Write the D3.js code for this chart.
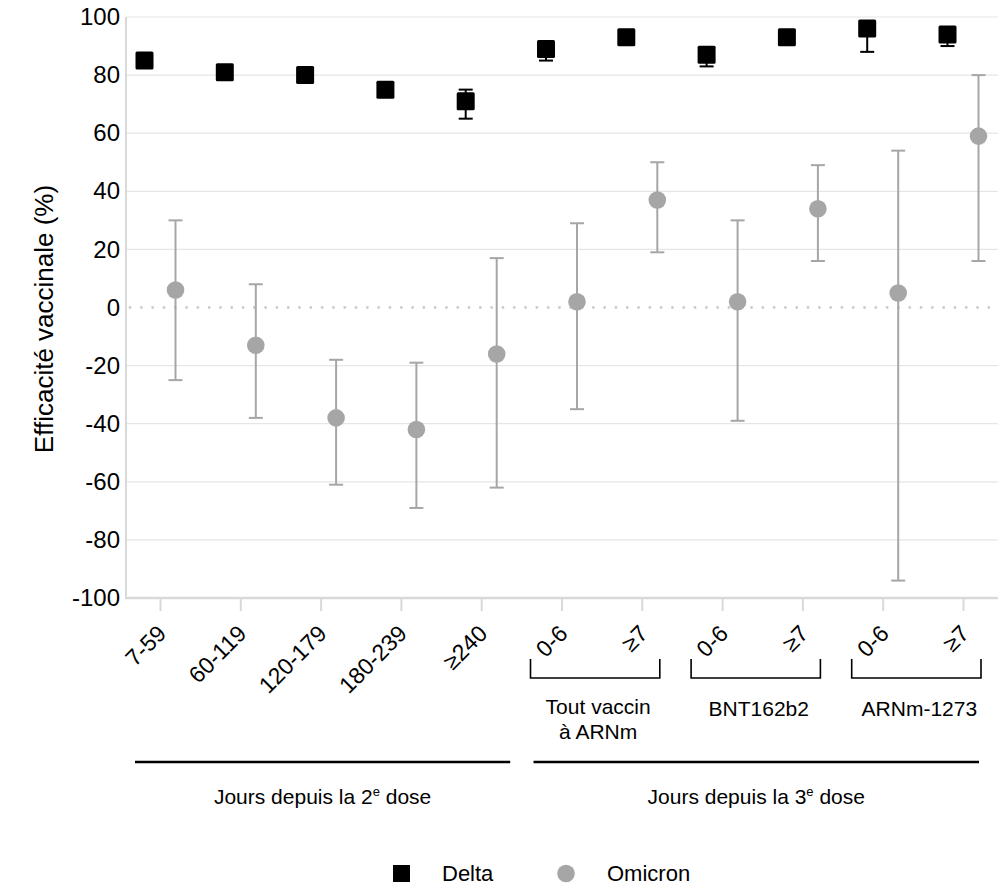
<!DOCTYPE html>
<html><head><meta charset="utf-8">
<script src="https://cdn.jsdelivr.net/npm/d3@7"></script>
<style>
html,body{margin:0;padding:0;background:#fff;}
svg{display:block;font-family:"Liberation Sans",Arial,sans-serif;}
</style></head>
<body><svg id="chart" width="1005" height="885"></svg>
<script>
// ---- data ----
const categories = ["7-59","60-119","120-179","180-239","≥240","0-6","≥7","0-6","≥7","0-6","≥7"];
const deltaVal = [85, 81, 80, 75, 71, 89, 93, 87, 93, 96, 94];
const deltaLo  = [84, 80, 79, 74, 65, 85, 92, 83, 92, 88, 90];
const deltaHi  = [86, 82, 81, 76, 75, 91, 94, 89, 94, 98, 96];
const omicronVal = [6, -13, -38, -42, -16, 2, 37, 2, 34, 5, 59];
const omicronLo  = [-25, -38, -61, -69, -62, -35, 19, -39, 16, -94, 16];
const omicronHi  = [30, 8, -18, -19, 17, 29, 50, 30, 49, 54, 80];
const yTicks = [-100,-80,-60,-40,-20,0,20,40,60,80,100];
const groupLabels = [["Tout vaccin","à ARNm"],["BNT162b2"],["ARNm-1273"]];
const groupFrom = [5,7,9];
const groupTo = [6,8,10];
const sectionLabels = [["Jours depuis la ","2","e"," dose"],["Jours depuis la ","3","e"," dose"]];
const sectionFrom = [0,5];
const sectionTo = [4,10];
const seriesNames = ["Delta","Omicron"];

// ---- layout ----
const svg = d3.select("#chart");
const plotL = 126, plotR = 998, plotT = 17, plotB = 598;
const fs = 21;
const grey = "#a6a6a6";

const y = d3.scaleLinear().domain([-100,100]).range([plotB, plotT]);
const x = d3.scalePoint().domain(d3.range(categories.length)).range([160, 963]);
const off = 15.5;

// gridlines
svg.append("g").selectAll("line")
  .data(yTicks.filter(t => t !== 0 && t !== -100))
  .join("line")
  .attr("x1", plotL).attr("x2", plotR)
  .attr("y1", d => y(d)).attr("y2", d => y(d))
  .attr("stroke", "#e6e6e6").attr("stroke-width", 1.2);

// zero dotted line
svg.append("line")
  .attr("x1", plotL + 4).attr("x2", plotR)
  .attr("y1", y(0)).attr("y2", y(0))
  .attr("stroke", "#cccccc").attr("stroke-width", 2.8)
  .attr("stroke-linecap", "round")
  .attr("stroke-dasharray", "0.1,11.2");

// y axis labels
const yAxis = d3.axisLeft(y).tickValues(yTicks).tickSize(0).tickPadding(6).tickFormat(d => String(d));
const yg = svg.append("g").attr("transform", `translate(${plotL},0)`).call(yAxis);
yg.select(".domain").remove();
yg.selectAll("text").attr("font-size", 24).attr("fill", "#000")
  .attr("font-family", "Liberation Sans, Arial, sans-serif");

// x axis
const xAxis = d3.axisBottom(x).tickSize(13).tickFormat(i => categories[i]);
const xg = svg.append("g").attr("transform", `translate(0,${plotB})`).call(xAxis);
xg.select(".domain").remove();
xg.selectAll(".tick line").attr("stroke", "#d9d9d9").attr("stroke-width", 2);
xg.selectAll(".tick text")
  .attr("font-size", 23).attr("fill", "#000")
  .attr("font-family", "Liberation Sans, Arial, sans-serif")
  .attr("text-anchor", "end")
  .attr("y", 0).attr("dy", 0)
  .attr("transform", "translate(7,37) rotate(-45)");

// axis lines
svg.append("line").attr("x1", plotL).attr("x2", plotL).attr("y1", plotT).attr("y2", plotB + 1)
  .attr("stroke", "#d9d9d9").attr("stroke-width", 2);
svg.append("line").attr("x1", plotL - 1).attr("x2", plotR).attr("y1", plotB).attr("y2", plotB)
  .attr("stroke", "#d9d9d9").attr("stroke-width", 2.5);

// y title
svg.append("text")
  .attr("transform", `translate(53,319) rotate(-90)`)
  .attr("text-anchor", "middle")
  .attr("font-size", 26)
  .text("Efficacité vaccinale (%)");

// error bars helper
function errorBars(vals, lo, hi, dx, color, cls) {
  const g = svg.append("g").attr("class", cls);
  const idx = d3.range(vals.length);
  g.selectAll("line.stem").data(idx).join("line").attr("class","stem")
    .attr("x1", i => x(i) + dx).attr("x2", i => x(i) + dx)
    .attr("y1", i => y(lo[i])).attr("y2", i => y(hi[i]))
    .attr("stroke", color).attr("stroke-width", 2);
  g.selectAll("line.lo").data(idx).join("line").attr("class","lo")
    .attr("x1", i => x(i) + dx - 7).attr("x2", i => x(i) + dx + 7)
    .attr("y1", i => y(lo[i])).attr("y2", i => y(lo[i]))
    .attr("stroke", color).attr("stroke-width", 2);
  g.selectAll("line.hi").data(idx).join("line").attr("class","hi")
    .attr("x1", i => x(i) + dx - 7).attr("x2", i => x(i) + dx + 7)
    .attr("y1", i => y(hi[i])).attr("y2", i => y(hi[i]))
    .attr("stroke", color).attr("stroke-width", 2);
}

errorBars(omicronVal, omicronLo, omicronHi, off, grey, "om-err");
errorBars(deltaVal, deltaLo, deltaHi, -off, "#000", "de-err");

// markers
const sq = 18;
svg.append("g").selectAll("rect").data(d3.range(deltaVal.length)).join("rect")
  .attr("x", i => x(i) - off - sq/2).attr("y", i => y(deltaVal[i]) - sq/2)
  .attr("width", sq).attr("height", sq).attr("rx", 1.5)
  .attr("fill", "#000");
svg.append("g").selectAll("circle").data(d3.range(omicronVal.length)).join("circle")
  .attr("cx", i => x(i) + off).attr("cy", i => y(omicronVal[i]))
  .attr("r", 8.8).attr("fill", grey);

// group brackets
const bT = 659, bB = 678;
groupFrom.forEach((f, k) => {
  const x1 = x(f) - 31, x2 = x(groupTo[k]) + 18;
  svg.append("path")
    .attr("d", `M${x1},${bT}V${bB}H${x2}V${bT}`)
    .attr("fill", "none").attr("stroke", "#000").attr("stroke-width", 1.6);
  const t = svg.append("text").attr("text-anchor", "middle").attr("font-size", fs)
    .attr("x", (x1 + x2)/2 + 3).attr("y", groupLabels[k].length > 1 ? 714 : 716);
  groupLabels[k].forEach((l, j) => {
    t.append("tspan").attr("x", (x1 + x2)/2 + 3).attr("dy", j === 0 ? 0 : 25).text(l);
  });
});

// section lines and labels
const secOffL = [-25, -28], secOffR = [29, 16];
sectionFrom.forEach((f, k) => {
  const x1 = x(f) + secOffL[k], x2 = x(sectionTo[k]) + secOffR[k];
  svg.append("line").attr("x1", x1).attr("x2", x2).attr("y1", 762).attr("y2", 762)
    .attr("stroke", "#000").attr("stroke-width", 2.4);
  const s = sectionLabels[k];
  const t = svg.append("text").attr("text-anchor", "middle").attr("font-size", fs)
    .attr("x", (x1 + x2)/2).attr("y", 804);
  t.append("tspan").text(s[0] + s[1]);
  t.append("tspan").attr("font-size", 13).attr("dy", -8).text(s[2]);
  t.append("tspan").attr("dy", 8).text(s[3]);
});

// legend
const lg = svg.append("g");
lg.append("rect").attr("x", 393).attr("y", 865).attr("width", 17).attr("height", 17).attr("fill", "#000");
lg.append("text").attr("x", 442).attr("y", 881).attr("font-size", 22).text(seriesNames[0]);
lg.append("circle").attr("cx", 566).attr("cy", 873.5).attr("r", 8.8).attr("fill", grey);
lg.append("text").attr("x", 607).attr("y", 881).attr("font-size", 22).text(seriesNames[1]);
</script>
</body></html>
